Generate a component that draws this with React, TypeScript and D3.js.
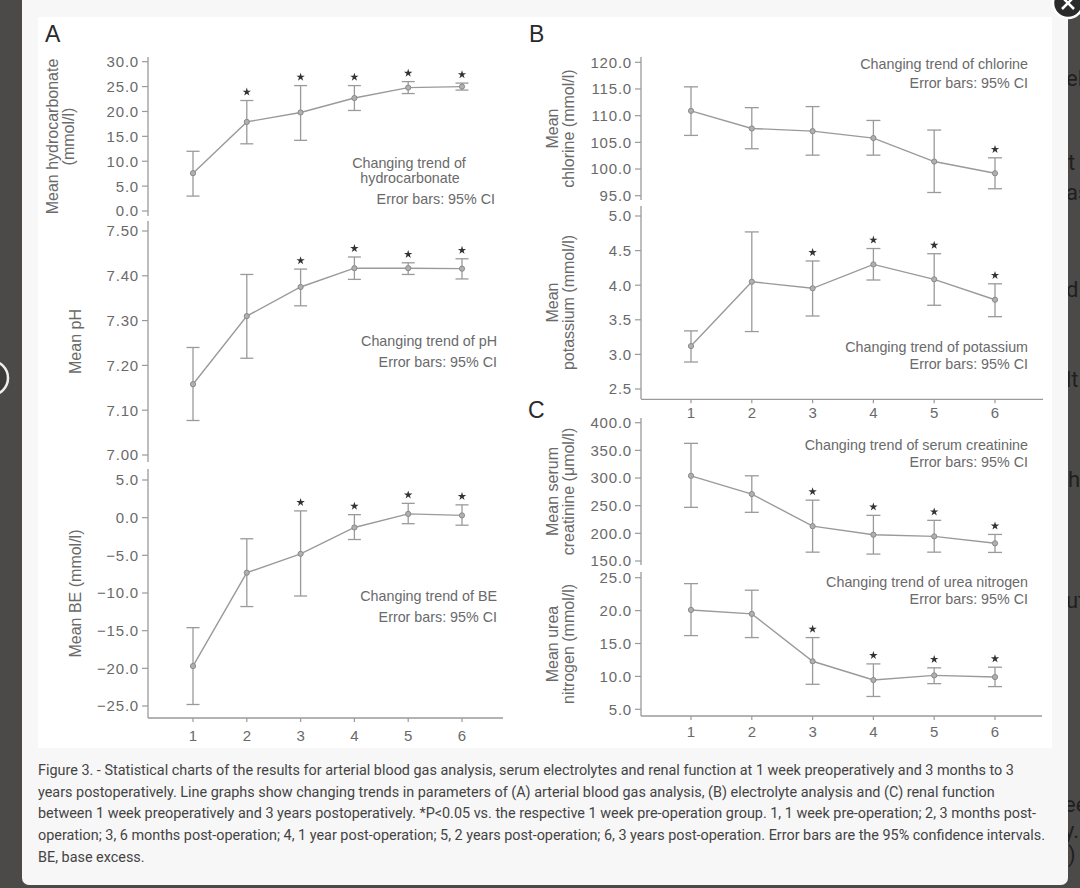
import React, {JSX} from "react";
import * as d3 from "d3";

// groups: 1 wk pre-op, 3 mo, 6 mo, 1 yr, 2 yr, 3 yr post-op
const groups = [1, 2, 3, 4, 5, 6];
const groupLabels = ["1", "2", "3", "4", "5", "6"];

const hcoMean = [7.6, 17.9, 19.8, 22.7, 24.8, 25.0];
const hcoLow = [3.0, 13.5, 14.2, 20.2, 23.6, 24.3];
const hcoHigh = [12.0, 22.2, 25.2, 25.2, 26.0, 25.7];
const hcoSig = [false, true, true, true, true, true];
const hcoTicks = [0, 5, 10, 15, 20, 25, 30];

const phMean = [7.158, 7.31, 7.375, 7.417, 7.417, 7.416];
const phLow = [7.077, 7.216, 7.333, 7.392, 7.403, 7.393];
const phHigh = [7.24, 7.403, 7.415, 7.442, 7.429, 7.438];
const phSig = [false, false, true, true, true, true];
const phTicks = [7.0, 7.1, 7.2, 7.3, 7.4, 7.5];

const beMean = [-19.7, -7.3, -4.8, -1.3, 0.5, 0.3];
const beLow = [-24.8, -11.8, -10.4, -2.9, -0.8, -1.0];
const beHigh = [-14.6, -2.8, 0.9, 0.4, 1.9, 1.7];
const beSig = [false, false, true, true, true, true];
const beTicks = [-25, -20, -15, -10, -5, 0, 5];

const clMean = [110.9, 107.6, 107.1, 105.8, 101.4, 99.2];
const clLow = [106.3, 103.8, 102.6, 102.6, 95.6, 96.3];
const clHigh = [115.4, 111.5, 111.7, 109.1, 107.3, 102.1];
const clSig = [false, false, false, false, false, true];
const clTicks = [95, 100, 105, 110, 115, 120];

const kMean = [3.12, 4.05, 3.955, 4.3, 4.085, 3.79];
const kLow = [2.89, 3.33, 3.555, 4.075, 3.71, 3.545];
const kHigh = [3.34, 4.77, 4.35, 4.53, 4.455, 4.02];
const kSig = [false, false, true, true, true, true];
const kTicks = [2.5, 3.0, 3.5, 4.0, 4.5, 5.0];

const crMean = [304, 271, 213, 197.5, 194.5, 182];
const crLow = [247, 238, 166, 162.5, 166, 165.5];
const crHigh = [362.7, 304, 260, 232.5, 223.5, 198];
const crSig = [false, false, true, true, true, true];
const crTicks = [150, 200, 250, 300, 350, 400];

const buMean = [20.1, 19.5, 12.3, 9.45, 10.15, 9.9];
const buLow = [16.2, 15.9, 8.8, 6.95, 8.9, 8.45];
const buHigh = [24.1, 23.1, 15.9, 11.9, 11.3, 11.4];
const buSig = [false, false, true, true, true, true];
const buTicks = [5, 10, 15, 20, 25];

const caption = [
    "Figure 3. - Statistical charts of the results for arterial blood gas analysis, serum electrolytes and renal function at 1 week preoperatively and 3 months to 3",
    "years postoperatively. Line graphs show changing trends in parameters of (A) arterial blood gas analysis, (B) electrolyte analysis and (C) renal function",
    "between 1 week preoperatively and 3 years postoperatively. *P<0.05 vs. the respective 1 week pre-operation group. 1, 1 week pre-operation; 2, 3 months post-",
    "operation; 3, 6 months post-operation; 4, 1 year post-operation; 5, 2 years post-operation; 6, 3 years post-operation. Error bars are the 95% confidence intervals.",
    "BE, base excess.",
];

const LINE = "#9a9a9a";
const TXT = "#6a6a6a";
const FONT = "'Liberation Sans', Arial, sans-serif";

type Panel = {
    mean: number[], low: number[], high: number[], sig: boolean[], ticks: number[], fmt: string,
    domain: [number, number], yRange: [number, number], axisSpan: [number, number],
    x: d3.ScaleLinear<number, number>, axisX: number, cap: number,
    title: string[], titleX: number, titleSize: number, tickSize: number,
    notes: { text: string, x: number, y: number, anchor: string }[],
}

const xA = d3.scaleLinear([1, 6], [193, 462]);
const xB = d3.scaleLinear([1, 6], [691, 995]);

const panels: Panel[] = [
    {mean: hcoMean, low: hcoLow, high: hcoHigh, sig: hcoSig, ticks: hcoTicks, fmt: ".1f",
        domain: [0, 30], yRange: [211, 61.7], axisSpan: [57, 216], x: xA, axisX: 148, cap: 6.5,
        title: ["Mean hydrocarbonate", "(mmol/l)"], titleX: 58, titleSize: 16, tickSize: 15,
        notes: [{text: "Changing trend of", x: 409, y: 168, anchor: "middle"},
            {text: "hydrocarbonate", x: 410, y: 183, anchor: "middle"},
            {text: "Error bars: 95% CI", x: 495, y: 204, anchor: "end"}]},
    {mean: phMean, low: phLow, high: phHigh, sig: phSig, ticks: phTicks, fmt: ".2f",
        domain: [7.0, 7.5], yRange: [455, 231], axisSpan: [221, 462], x: xA, axisX: 148, cap: 6.5,
        title: ["Mean pH"], titleX: 75, titleSize: 16, tickSize: 15,
        notes: [{text: "Changing trend of pH", x: 497, y: 346, anchor: "end"},
            {text: "Error bars: 95% CI", x: 497, y: 367, anchor: "end"}]},
    {mean: beMean, low: beLow, high: beHigh, sig: beSig, ticks: beTicks, fmt: ".1f",
        domain: [-25, 5], yRange: [706, 480], axisSpan: [469, 718], x: xA, axisX: 148, cap: 6.5,
        title: ["Mean BE (mmol/l)"], titleX: 75, titleSize: 16, tickSize: 15,
        notes: [{text: "Changing trend of BE", x: 497, y: 601, anchor: "end"},
            {text: "Error bars: 95% CI", x: 497, y: 622, anchor: "end"}]},
    {mean: clMean, low: clLow, high: clHigh, sig: clSig, ticks: clTicks, fmt: ".1f",
        domain: [95, 120], yRange: [195.7, 62.3], axisSpan: [57, 200], x: xB, axisX: 641, cap: 7,
        title: ["Mean", "chlorine (mmol/l)"], titleX: 558, titleSize: 16, tickSize: 15,
        notes: [{text: "Changing trend of chlorine", x: 1028, y: 68.5, anchor: "end"},
            {text: "Error bars: 95% CI", x: 1028, y: 87.5, anchor: "end"}]},
    {mean: kMean, low: kLow, high: kHigh, sig: kSig, ticks: kTicks, fmt: ".1f",
        domain: [2.5, 5.0], yRange: [389, 216], axisSpan: [206, 399], x: xB, axisX: 641, cap: 7,
        title: ["Mean", "potassium (mmol/l)"], titleX: 558, titleSize: 16, tickSize: 15,
        notes: [{text: "Changing trend of potassium", x: 1028, y: 352, anchor: "end"},
            {text: "Error bars: 95% CI", x: 1028, y: 369, anchor: "end"}]},
    {mean: crMean, low: crLow, high: crHigh, sig: crSig, ticks: crTicks, fmt: ".1f",
        domain: [150, 400], yRange: [561, 422.7], axisSpan: [418, 565], x: xB, axisX: 641, cap: 7,
        title: ["Mean serum", "creatinine (\u03bcmol/l)"], titleX: 558, titleSize: 16, tickSize: 15,
        notes: [{text: "Changing trend of serum creatinine", x: 1028, y: 449.5, anchor: "end"},
            {text: "Error bars: 95% CI", x: 1028, y: 467, anchor: "end"}]},
    {mean: buMean, low: buLow, high: buHigh, sig: buSig, ticks: buTicks, fmt: ".1f",
        domain: [5, 25], yRange: [709.3, 577.7], axisSpan: [572, 716], x: xB, axisX: 641, cap: 7,
        title: ["Mean urea", "nitrogen (mmol/l)"], titleX: 558, titleSize: 16, tickSize: 15,
        notes: [{text: "Changing trend of urea nitrogen", x: 1028, y: 587, anchor: "end"},
            {text: "Error bars: 95% CI", x: 1028, y: 604, anchor: "end"}]},
];

const xAxes = [
    {x: xA, axisX: 148, right: 503, y: 718, labelY: 741},
    {x: xB, axisX: 641, right: 1043, y: 399.3, labelY: 418},
    {x: xB, axisX: 641, right: 1042, y: 716, labelY: 737},
];

const star = d3.symbol().type(d3.symbolStar).size(22)() as string;

const Subplot = ({p}: { p: Panel }): JSX.Element => {
    const y = d3.scaleLinear(p.domain, p.yRange);
    const fmt = d3.format(p.fmt);
    const line = d3.line<number>((d, i) => p.x(groups[i]), (d) => y(d));
    const midY = (p.axisSpan[0] + p.axisSpan[1]) / 2;
    const lh = 15.5;
    return (
        <g fontFamily={FONT}>
            <line x1={p.axisX} x2={p.axisX} y1={p.axisSpan[0]} y2={p.axisSpan[1]} stroke={LINE} strokeWidth={1.3}/>
            {p.ticks.map((t) => (
                <g key={t} transform={`translate(${p.axisX},${y(t)})`}>
                    <line x1={-6} x2={0} stroke={LINE} strokeWidth={1.2}/>
                    <text x={-9} dy="0.36em" textAnchor="end" fill={TXT} fontSize={p.tickSize}
                          letterSpacing={0.8}>{fmt(t)}</text>
                </g>
            ))}
            <text transform={`translate(${p.titleX},${midY}) rotate(-90)`} textAnchor="middle" fill={TXT}
                  fontSize={p.titleSize}>
                {p.title.map((s, i) => (
                    <tspan key={i} x={0} dy={i === 0 ? (p.title.length === 1 ? "0.35em" : "0") : lh}>{s}</tspan>
                ))}
            </text>
            <path d={line(p.mean) as string} fill="none" stroke={LINE} strokeWidth={1.4}/>
            {groups.map((g, i) => (
                <g key={g} stroke={LINE} strokeWidth={1.3}>
                    <line x1={p.x(g)} x2={p.x(g)} y1={y(p.low[i])} y2={y(p.high[i])}/>
                    <line x1={p.x(g) - p.cap} x2={p.x(g) + p.cap} y1={y(p.low[i])} y2={y(p.low[i])}/>
                    <line x1={p.x(g) - p.cap} x2={p.x(g) + p.cap} y1={y(p.high[i])} y2={y(p.high[i])}/>
                    <circle cx={p.x(g)} cy={y(p.mean[i])} r={2.6} fill="#b0b0b0" stroke="#8a8a8a" strokeWidth={1}/>
                    {p.sig[i] && (
                        <path d={star} transform={`translate(${p.x(g)},${y(p.high[i]) - 8.5})`} fill="#333"
                              stroke="none"/>
                    )}
                </g>
            ))}
            {p.notes.map((n, i) => (
                <text key={i} x={n.x} y={n.y} textAnchor={n.anchor} fill={TXT} fontSize={14.3}>{n.text}</text>
            ))}
        </g>
    );
};

export default function App(): JSX.Element {
    return (
        <div style={{position: "fixed", left: 0, top: 0}}>
            <svg width={1080} height={888} style={{display: "block"}}>
                <rect width={1080} height={888} fill="#4b4a48"/>
                {/* page text peeking out beside the modal */}
                <g fontFamily="Roboto, sans-serif" fontSize={22} fill="#1f1f1f">
                    <text x={1066} y={86}>el</text>
                    <text x={1068} y={170}>t</text>
                    <text x={1066} y={200}>as</text>
                    <text x={1066} y={297}>d</text>
                    <text x={1066} y={387}>lt</text>
                    <text x={1068} y={487}>h</text>
                    <text x={1066} y={608}>ut</text>
                    <text x={1064} y={812}>ee</text>
                    <text x={1064} y={838}>y.</text>
                    <text x={1068} y={862}>)</text>
                </g>
                <rect x={22} y={-8} width={1046} height={893} rx={7} fill="#f7f7f7"/>
                <rect x={38} y={17} width={1014} height={731} fill="#ffffff"/>
                <g fontFamily={FONT} fill="#2a2a2a" fontSize={23}>
                    <text x={45} y={42}>A</text>
                    <text x={529} y={42}>B</text>
                    <text x={528} y={418}>C</text>
                </g>
                {panels.map((p, i) => <Subplot key={i} p={p}/>)}
                {xAxes.map((a, i) => (
                    <g key={i} fontFamily={FONT}>
                        <line x1={a.axisX} x2={a.right} y1={a.y} y2={a.y} stroke={LINE} strokeWidth={1.3}/>
                        {groups.map((g, j) => (
                            <g key={g}>
                                <line x1={a.x(g)} x2={a.x(g)} y1={a.y} y2={a.y + 4} stroke={LINE} strokeWidth={1.2}/>
                                <text x={a.x(g)} y={a.labelY} textAnchor="middle" fill={TXT}
                                      fontSize={15}>{groupLabels[j]}</text>
                            </g>
                        ))}
                    </g>
                ))}
                <g fontFamily="Roboto, sans-serif" fontSize={14.4} fill="#444">
                    {caption.map((s, i) => (
                        <text key={i} x={38} y={775 + i * 21.7}>{s}</text>
                    ))}
                </g>
                {/* close button and side arrow */}
                <circle cx={1068} cy={3} r={15} fill="#2b2b2b" stroke="#fff" strokeWidth={2.5}/>
                <path d="M1062,-3 L1074,9 M1074,-3 L1062,9" stroke="#fff" strokeWidth={2.5}/>
                <circle cx={-9} cy={378} r={17} fill="#3c3b39" stroke="#eee" strokeWidth={2.5}/>
            </svg>
        </div>
    );
}
